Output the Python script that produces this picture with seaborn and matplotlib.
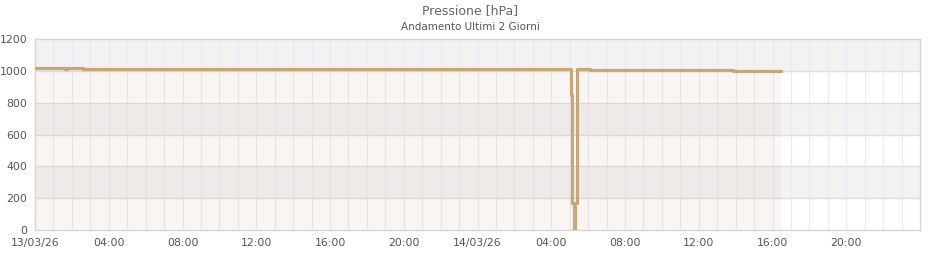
import matplotlib
matplotlib.use("Agg")
import matplotlib.pyplot as plt
import seaborn as sns
import pandas as pd

# ---- data (hours since 13/03/26 00:00, pressure hPa; step change points) ----
hours = [0.0, 1.65, 1.75, 2.6, 21.0, 29.08, 29.12, 29.23, 29.27, 29.39, 30.1, 37.85, 40.45]
pressure = [1022, 1016, 1022, 1016, 1011, 850, 170, 0, 170, 1011, 1004, 998, 998]
xtick_pos = [0, 4, 8, 12, 16, 20, 24, 28, 32, 36, 40, 44]
xtick_labels = ["13/03/26", "04:00", "08:00", "12:00", "16:00", "20:00",
                "14/03/26", "04:00", "08:00", "12:00", "16:00", "20:00"]
yticks = [0, 200, 400, 600, 800, 1000, 1200]
title = "Pressione [hPa]"
subtitle = "Andamento Ultimi 2 Giorni"

line_color = "#c9a677"
fill_color = "#cda587"

sns.set_theme(style="white")
plt.rcParams["font.family"] = ["DejaVu Sans"]

df = pd.DataFrame({"h": hours, "p": pressure})

fig = plt.figure(figsize=(9.4, 2.6), dpi=100)
ax = fig.add_axes([35 / 940, 1 - 230 / 260, 885 / 940, 190.7 / 260])

ax.set_xlim(0, 48)
ax.set_ylim(0, 1200)

# alternating bands
for i in range(len(yticks) - 1):
    if i % 2 == 1:
        ax.axhspan(yticks[i], yticks[i + 1], color="#f2f2f2", zorder=0, lw=0)

# vertical hourly grid
for h in range(1, 48):
    ax.axvline(h, color="#ebe9f7", lw=0.9, zorder=1)
for y in yticks[1:-1]:
    ax.axhline(y, color="#dedede", lw=1, zorder=1)

ax.fill_between(df["h"], df["p"], 0, step="post", color=fill_color, alpha=0.1, lw=0, zorder=2)
sns.lineplot(data=df, x="h", y="p", ax=ax, color=line_color, lw=2.3,
             drawstyle="steps-post", zorder=3)

ax.set_xticks(xtick_pos)
ax.set_xticklabels(xtick_labels)
ax.set_yticks(yticks)
ax.set_yticklabels([str(v) for v in yticks])
ax.tick_params(axis="both", labelsize=7.8, colors="#555555", length=0, pad=6)
ax.tick_params(axis="y", pad=5.5)
ax.set_xlabel("")
ax.set_ylabel("")
for s in ax.spines.values():
    s.set_color("#d6d6d6")
    s.set_linewidth(1)

fig.text(0.5, 1 - 11 / 260, title, ha="center", va="center", fontsize=9, color="#666666")
fig.text(0.5, 1 - 27 / 260, subtitle, ha="center", va="center", fontsize=7.5, color="#555555")

fig.savefig("out.png", dpi=100, facecolor="white")
